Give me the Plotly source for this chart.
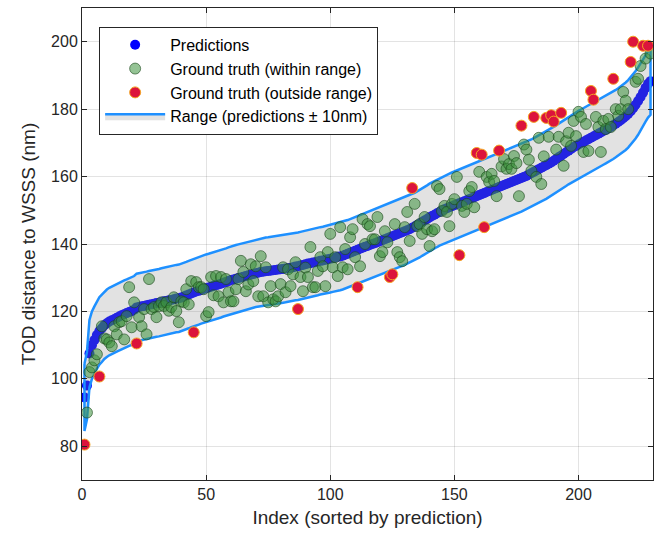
import plotly.graph_objects as go

# Predictions (sorted), index 1..229
pred = [
    94.5, 98.0, 107.5, 110.0, 111.5, 113.0, 114.2, 115.0, 115.9, 116.5,
    117.0, 117.4, 117.7, 118.1, 118.5, 118.9, 119.2, 119.5, 119.8, 120.1,
    120.5, 121.2, 121.3, 121.5, 121.6, 121.8, 122.0, 122.1, 122.3, 122.5,
    122.6, 122.8, 123.0, 123.1, 123.3, 123.4, 123.6, 123.8, 123.9, 124.1,
    124.4, 124.7, 125.0, 125.3, 125.6, 125.9, 126.1, 126.4, 126.7, 126.9,
    127.1, 127.3, 127.6, 127.8, 128.0, 128.2, 128.5, 128.7, 129.0, 129.3,
    129.5, 129.7, 129.9, 130.1, 130.3, 130.5, 130.7, 130.9, 131.1, 131.3,
    131.5, 131.7, 131.8, 131.9, 132.0, 132.1, 132.2, 132.3, 132.4, 132.5,
    132.6, 132.7, 132.8, 132.9, 133.1, 133.3, 133.4, 133.6, 133.8, 134.0,
    134.2, 134.3, 134.5, 134.6, 134.8, 135.0, 135.1, 135.3, 135.5, 135.6,
    135.8, 136.0, 136.2, 136.3, 136.5, 136.8, 137.1, 137.4, 137.7, 138.0,
    138.3, 138.6, 138.9, 139.2, 139.4, 139.7, 140.0, 140.2, 140.5, 140.8,
    141.1, 141.4, 141.7, 142.0, 142.3, 142.6, 142.9, 143.2, 143.5, 143.8,
    144.1, 144.4, 144.8, 145.2, 145.6, 146.0, 146.5, 147.0, 147.4, 147.9,
    148.3, 148.7, 149.1, 149.5, 149.9, 150.3, 150.6, 150.9, 151.2, 151.5,
    151.8, 152.1, 152.4, 152.7, 153.0, 153.3, 153.6, 153.9, 154.2, 154.5,
    154.8, 155.1, 155.4, 155.7, 156.0, 156.3, 156.6, 156.9, 157.2, 157.5,
    157.8, 158.1, 158.4, 158.7, 159.0, 159.3, 159.6, 159.9, 160.2, 160.6,
    161.0, 161.4, 161.8, 162.2, 162.6, 163.0, 163.4, 163.8, 164.2, 164.7,
    165.2, 165.7, 166.2, 166.7, 167.2, 167.7, 168.2, 168.7, 169.1, 169.5,
    169.9, 170.3, 170.7, 171.1, 171.5, 171.9, 172.3, 172.7, 173.1, 173.5,
    173.9, 174.3, 174.7, 175.2, 175.7, 176.2, 176.7, 177.3, 177.9, 178.6,
    179.4, 180.3, 181.3, 182.4, 183.6, 184.9, 186.3, 187.5, 188.3,
]

# Ground truth, same ordering
truth = [
    80.5, 90.0, 102.0, 103.4, 105.5, 107.3, 100.7, 115.6, 112.0, 111.7,
    110.8, 109.7, 115.6, 113.2, 116.8, 117.1, 111.7, 118.6, 127.2, 115.3,
    122.7, 110.5, 118.3, 115.6, 120.7, 113.2, 129.6, 120.7, 121.3, 118.3,
    121.6, 122.7, 121.6, 122.7, 120.2, 121.3, 124.2, 120.1, 116.8, 123.0,
    122.7, 126.6, 122.1, 129.0, 113.8, 128.7, 127.2, 127.2, 126.6, 118.6,
    119.8, 130.2, 124.8, 130.5, 124.5, 130.2, 122.7, 129.6, 125.7, 123.0,
    123.0, 126.6, 129.6, 135.0, 131.7, 126.0, 128.0, 134.0, 129.0, 133.4,
    124.5, 136.4, 124.5, 133.1, 122.7, 127.5, 123.6, 123.0, 124.5, 128.1,
    133.1, 125.7, 132.5, 127.5, 131.0, 134.6, 120.7, 130.2, 126.0, 133.0,
    130.2, 139.1, 127.2, 127.2, 132.0, 136.1, 133.4, 127.5, 137.6, 143.0,
    133.1, 136.1, 130.5, 145.0, 133.1, 138.5, 132.5, 142.0, 144.4, 136.1,
    127.2, 133.4, 147.4, 140.0, 145.9, 145.3, 141.4, 141.4, 148.0, 136.4,
    137.6, 143.8, 140.5, 130.2, 131.0, 145.9, 137.6, 136.1, 134.9, 145.0,
    149.5, 140.9, 156.6, 151.9, 145.3, 145.9, 143.0, 148.0, 144.4, 139.4,
    143.8, 144.4, 157.2, 156.3, 149.8, 151.3, 149.5, 145.3, 151.9, 153.3,
    159.9, 136.7, 151.3, 149.5, 151.9, 155.7, 156.9, 150.9, 167.0, 161.4,
    166.5, 145.0, 159.9, 158.4, 160.8, 158.7, 154.2, 167.7, 163.0, 165.2,
    162.3, 163.7, 162.3, 166.1, 164.0, 154.2, 175.1, 169.5, 168.0, 165.0,
    161.7, 177.7, 159.9, 171.5, 157.8, 166.0, 177.4, 171.8, 178.2, 176.3,
    168.0, 171.8, 178.9, 163.2, 170.5, 173.0, 169.1, 176.5, 172.0, 179.2,
    177.7, 167.3, 175.6, 167.6, 185.4, 182.8, 177.7, 174.7, 167.3, 176.5,
    174.1, 177.1, 174.7, 189.0, 180.0, 178.0, 180.0, 185.1, 182.5, 180.0,
    194.0, 200.0, 188.1, 189.0, 192.8, 198.8, 195.0, 198.8, 196.5,
]

half_width = 10
idx = list(range(1, len(pred) + 1))
upper = [p + half_width for p in pred]
lower = [p - half_width for p in pred]

in_x, in_y, out_x, out_y = [], [], [], []
for i, p, t in zip(idx, pred, truth):
    if abs(t - p) <= half_width:
        in_x.append(i); in_y.append(t)
    else:
        out_x.append(i); out_y.append(t)

FONT = "Liberation Sans, Arial, Helvetica, sans-serif"
fig = go.Figure()

fig.add_trace(go.Scatter(
    x=idx, y=pred, mode="markers", name="Predictions", legendrank=1,
    marker=dict(color="#0000ff", size=10, line=dict(width=0)),
))
fig.add_trace(go.Scatter(
    x=idx + idx[::-1] + [idx[0]], y=upper + lower[::-1] + [upper[0]],
    mode="lines", fill="toself", fillcolor="rgba(140,140,140,0.25)",
    line=dict(color="#1e90ff", width=2.5),
    name="Range (predictions \u00b1 10nm)", legendrank=4, hoverinfo="skip",
))
fig.add_trace(go.Scatter(
    x=in_x, y=in_y, mode="markers", name="Ground truth (within range)",
    legendrank=2,
    marker=dict(color="rgba(60,145,60,0.55)", size=11,
                line=dict(color="rgba(25,70,25,0.6)", width=1)),
))
fig.add_trace(go.Scatter(
    x=out_x, y=out_y, mode="markers", name="Ground truth (outside range)",
    legendrank=3,
    marker=dict(color="#dc143c", size=11, line=dict(color="#f5a623", width=1)),
))

axis_common = dict(
    showline=True, linecolor="#262626", linewidth=1, mirror="ticks",
    ticks="inside", ticklen=5, tickcolor="#262626",
    showgrid=True, gridcolor="rgba(38,38,38,0.13)", gridwidth=1,
    zeroline=False, tickfont=dict(family=FONT, size=16, color="#262626"),
)
fig.update_xaxes(range=[0, 230], tickvals=[0, 50, 100, 150, 200],
                 title=dict(text="Index (sorted by prediction)",
                            font=dict(family=FONT, size=19, color="#262626"),
                            standoff=8),
                 **axis_common)
fig.update_yaxes(range=[70, 210], tickvals=[80, 100, 120, 140, 160, 180, 200],
                 title=dict(text="TOD distance to WSSS (nm)",
                            font=dict(family=FONT, size=19, color="#262626"),
                            standoff=10),
                 **axis_common)

fig.update_layout(
    width=667, height=538,
    margin=dict(l=82, r=14, t=8, b=58),
    plot_bgcolor="white", paper_bgcolor="white",
    font=dict(family=FONT, size=16, color="#000000"),
    legend=dict(x=0.03, y=0.96, xanchor="left", yanchor="top",
                bgcolor="white", bordercolor="#262626", borderwidth=1,
                font=dict(family=FONT, size=16, color="#000000"),
                itemwidth=60, tracegroupgap=0, traceorder="normal"),
)

fig.write_html("out.html")
